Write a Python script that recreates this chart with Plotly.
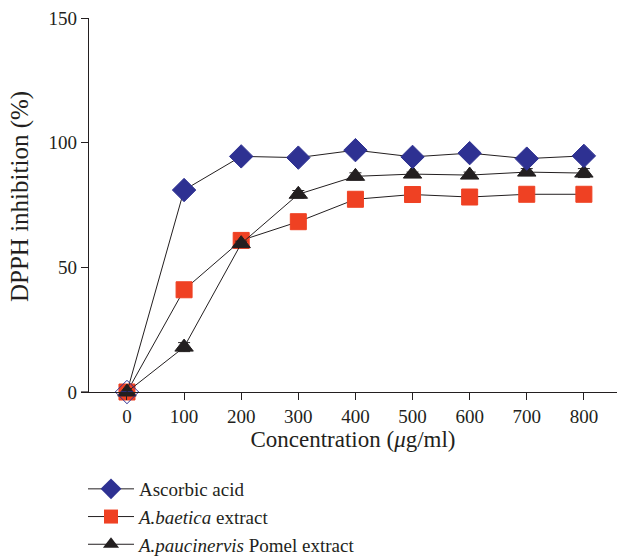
import plotly.graph_objects as go

conc = [0, 100, 200, 300, 400, 500, 600, 700, 800]
ascorbic = [0, 81, 94.5, 94, 97, 94.3, 95.8, 93.6, 94.7]
ascorbic_err = [0, 0.8, 1.2, 0.6, 0.8, 0.7, 1.2, 1.0, 1.3]
baetica = [0, 41, 60.8, 68.3, 77.3, 79.2, 78.2, 79.3, 79.3]
baetica_err = [0, 0.6, 0.8, 0.6, 0.7, 0.5, 0.6, 0.5, 0.5]
paucinervis = [0, 18, 59.5, 79.3, 86.5, 87.4, 87.0, 88.2, 87.8]
paucinervis_err = [0, 1.8, 1.0, 1.5, 1.4, 0.8, 1.2, 1.4, 1.8]

names = ["Ascorbic acid", "<i>A.baetica</i> extract", "<i>A.paucinervis</i> Pomel extract"]
x_ticks = [0, 100, 200, 300, 400, 500, 600, 700, 800]
y_ticks = [0, 50, 100, 150]

font = "Liberation Serif, Times New Roman, serif"
black = "#231f20"
blue = "#2e3192"
red = "#ef4123"

fig = go.Figure()

series = [
    (baetica, baetica_err, "square", 16, red, black),
    (paucinervis, paucinervis_err, "triangle-up", 16, black, black),
    (ascorbic, ascorbic_err, "diamond", 18, blue, blue),
]
for vals, err, sym, size, col, ecol in series:
    syms = [sym] * len(conc)
    if sym == "diamond":
        syms[0] = "diamond-open"
    fig.add_trace(go.Scatter(
        x=conc, y=vals, mode="lines+markers", showlegend=False,
        line=dict(color=black, width=1),
        marker=dict(symbol=syms, size=size, color=col, line=dict(color=col, width=1)),
        error_y=dict(type="data", array=err, color=ecol, thickness=1, width=6),
        cliponaxis=False,
    ))

# legend entries
legend_specs = [
    (names[0], "diamond", 16, blue),
    (names[1], "square", 14, red),
    (names[2], "triangle-up", 14, black),
]
for i, (nm, sym, size, col) in enumerate(legend_specs):
    fig.add_trace(go.Scatter(
        x=[None], y=[None], mode="lines+markers", name=nm,
        legendgroup=f"g{i}", legendrank=i + 1,
        line=dict(color=black, width=1),
        marker=dict(symbol=sym, size=size, color=col),
    ))

plot_left = 89
plot_w = 617 - plot_left
plot_h = 392 - 18

fig.update_layout(
    width=617, height=560,
    margin=dict(l=plot_left, r=0, t=18, b=168, autoexpand=False),
    plot_bgcolor="white", paper_bgcolor="white",
    font=dict(family=font, size=19, color=black),
    showlegend=True,
    legend=dict(xref="container", yref="container",
                x=83 / 617, y=1 - 470 / 560, xanchor="left", yanchor="top",
                font=dict(family=font, size=19, color=black),
                bgcolor="rgba(0,0,0,0)", tracegroupgap=0, itemwidth=46),
    xaxis=dict(range=[-66.5, 858], tickvals=x_ticks, showgrid=False, zeroline=False,
               showline=True, linecolor=black, linewidth=1.2, automargin=False,
               ticks="outside", ticklen=7, tickcolor=black,
               title=dict(text="Concentration (<i>μ</i>g/ml)", standoff=2),
               tickfont=dict(size=19)),
    yaxis=dict(range=[0, 150], tickvals=y_ticks, showgrid=False, zeroline=False,
               automargin=False,
               showline=True, linecolor=black, linewidth=1.2,
               ticks="outside", ticklen=7, tickcolor=black,
               tickfont=dict(size=19)),
    shapes=[dict(type="line", xref="paper", yref="paper",
                 x0=-8 / plot_w, x1=0, y0=0, y1=0,
                 line=dict(color=black, width=1.2))],
    annotations=[dict(text="DPPH inhibition (%)", textangle=-90, showarrow=False,
                      xref="paper", yref="paper",
                      x=(20 - plot_left) / plot_w, y=(392 - 197) / plot_h,
                      xanchor="center", yanchor="middle",
                      font=dict(family=font, size=25, color=black))],
)

fig.write_html("out.html", config={"displayModeBar": False},
               post_script="document.body.style.margin='0';")
